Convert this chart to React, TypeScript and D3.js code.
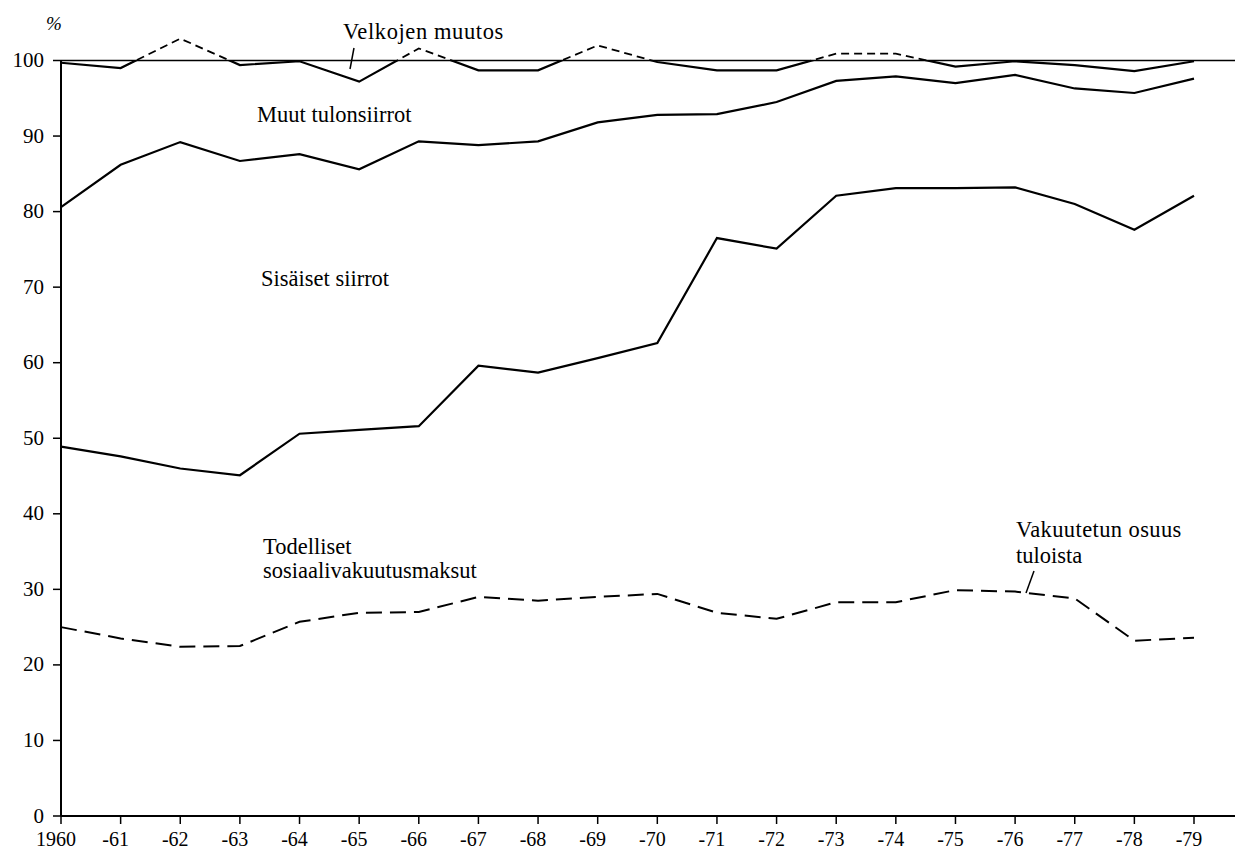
import React from 'react';
import * as d3 from 'd3';

const years = [1960, 1961, 1962, 1963, 1964, 1965, 1966, 1967, 1968, 1969, 1970, 1971, 1972, 1973, 1974, 1975, 1976, 1977, 1978, 1979];
const yearLabels = ['1960', '-61', '-62', '-63', '-64', '-65', '-66', '-67', '-68', '-69', '-70', '-71', '-72', '-73', '-74', '-75', '-76', '-77', '-78', '-79'];
// Upper edge of "Muut tulonsiirrot" (100 minus Velkojen muutos); above 100 drawn dashed
const velkojenEdge = [99.7, 99.0, 102.9, 99.4, 99.9, 97.2, 101.6, 98.7, 98.7, 102.0, 99.8, 98.7, 98.7, 100.9, 100.9, 99.2, 99.9, 99.4, 98.6, 99.9];
// Boundary between Sisäiset siirrot and Muut tulonsiirrot
const muutEdge = [80.6, 86.2, 89.2, 86.7, 87.6, 85.6, 89.3, 88.8, 89.3, 91.8, 92.8, 92.9, 94.5, 97.3, 97.9, 97.0, 98.1, 96.3, 95.7, 97.6];
// Lower boundary of Sisäiset siirrot
const sisaisetEdge = [48.9, 47.6, 46.0, 45.1, 50.6, 51.1, 51.6, 59.6, 58.7, 60.6, 62.6, 76.5, 75.1, 82.1, 83.1, 83.1, 83.2, 81.0, 77.6, 82.1];
// Todelliset sosiaalivakuutusmaksut (dashed)
const todellisetEdge = [25.0, 23.5, 22.4, 22.5, 25.7, 26.9, 27.0, 29.0, 28.5, 29.0, 29.4, 26.9, 26.1, 28.3, 28.3, 29.9, 29.7, 28.8, 23.2, 23.6];
const yTicks = [0, 10, 20, 30, 40, 50, 60, 70, 80, 90, 100];

const FONT = "'Liberation Serif', 'Times New Roman', serif";

export default function App() {
  const W = 1235;
  const H = 854;
  const x = d3.scaleLinear().domain([1960, 1979]).range([61, 1194]);
  const y = d3.scaleLinear().domain([0, 100]).range([816, 60.5]);
  const line = d3
    .line<number>()
    .x((_, i) => x(years[i]))
    .y((d) => y(d));

  const y100 = y(100);
  const axisLeft = x(1960);
  const LBL = 22.5;

  return (
    <svg
      width={W}
      height={H}
      style={{ position: 'absolute', left: 0, top: 0, background: '#fff' }}
      fontFamily={FONT}
    >
      <defs>
        <clipPath id="below100">
          <rect x={0} y={y100} width={W} height={H - y100} />
        </clipPath>
        <clipPath id="above100">
          <rect x={0} y={0} width={W} height={y100} />
        </clipPath>
      </defs>
      <rect x={0} y={0} width={W} height={H} fill="#fff" />

      {/* y axis */}
      <line x1={axisLeft} x2={axisLeft} y1={y(100)} y2={y(0)} stroke="#000" strokeWidth={2} />
      {yTicks.map((t) => (
        <g key={t}>
          <line x1={axisLeft - 8} x2={axisLeft} y1={y(t)} y2={y(t)} stroke="#000" strokeWidth={1.5} />
          <text x={axisLeft - 17} y={y(t) + 6.5} textAnchor="end" fontSize={21} fill="#000">
            {t}
          </text>
        </g>
      ))}
      <text x={46} y={30} fontSize={19} fontStyle="italic" fill="#000">%</text>

      {/* x axis */}
      <line x1={axisLeft} x2={W} y1={y(0)} y2={y(0)} stroke="#000" strokeWidth={2} />
      {years.map((yr, i) => (
        <g key={yr}>
          <line x1={x(yr)} x2={x(yr)} y1={y(0)} y2={y(0) + 8} stroke="#000" strokeWidth={1.5} />
          <text x={x(yr) - 5} y={846} textAnchor="middle" fontSize={20} fill="#000">
            {yearLabels[i]}
          </text>
        </g>
      ))}

      {/* 100 reference line */}
      <line x1={axisLeft} x2={W} y1={y100} y2={y100} stroke="#000" strokeWidth={1.6} />

      {/* Velkojen muutos edge */}
      <path d={line(velkojenEdge) || ''} fill="none" stroke="#000" strokeWidth={2.2} clipPath="url(#below100)" />
      <path d={line(velkojenEdge) || ''} fill="none" stroke="#000" strokeWidth={1.8} strokeDasharray="8,5" clipPath="url(#above100)" />

      {/* Muut tulonsiirrot / Sisäiset boundary */}
      <path d={line(muutEdge) || ''} fill="none" stroke="#000" strokeWidth={2.2} />
      {/* Sisäiset siirrot lower boundary */}
      <path d={line(sisaisetEdge) || ''} fill="none" stroke="#000" strokeWidth={2.2} />
      {/* Todelliset sosiaalivakuutusmaksut */}
      <path d={line(todellisetEdge) || ''} fill="none" stroke="#000" strokeWidth={2} strokeDasharray="16,8" />

      {/* labels */}
      <text x={343} y={39} fontSize={LBL} letterSpacing={0.6} fill="#000">Velkojen muutos</text>
      <line x1={354} y1={48} x2={350} y2={69} stroke="#000" strokeWidth={1.5} />
      <text x={257} y={122} fontSize={LBL} fill="#000">Muut tulonsiirrot</text>
      <text x={261} y={286} fontSize={LBL} fill="#000">Sisäiset siirrot</text>
      <text x={263} y={554} fontSize={LBL} fill="#000">Todelliset</text>
      <text x={263} y={578} fontSize={LBL} fill="#000">sosiaalivakuutusmaksut</text>
      <text x={1016} y={537} fontSize={LBL} letterSpacing={0.4} fill="#000">Vakuutetun osuus</text>
      <text x={1016} y={563} fontSize={LBL} fill="#000">tuloista</text>
      <line x1={1034} y1={571} x2={1026} y2={593} stroke="#000" strokeWidth={1.5} />
    </svg>
  );
}
